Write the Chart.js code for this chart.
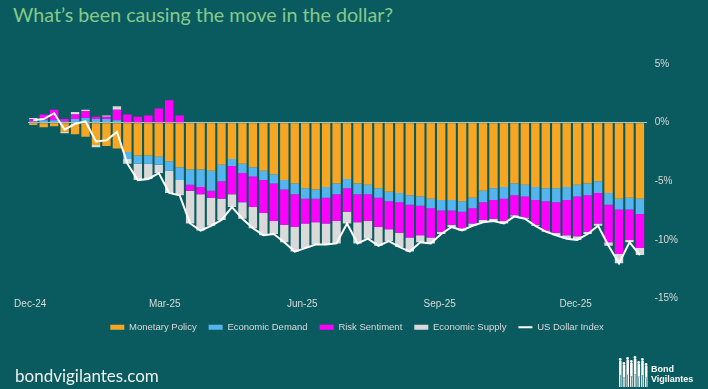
<!DOCTYPE html>
<html lang="en">
<head>
  <meta charset="UTF-8">
  <title>What's been causing the move in the dollar?</title>
  <script src="https://cdn.jsdelivr.net/npm/chart.js"></script>
  <style>
    body { margin: 0; width: 708px; height: 389px; background: #0a5b5f; overflow: hidden; position: relative; }
    .title { position: absolute; left: 13px; top: 3px; font-family: 'Lato', sans-serif; font-size: 19.7px; color: #86c98c; white-space: nowrap; }
    .site { position: absolute; left: 15px; top: 365px; font-family: 'Lato', sans-serif; font-size: 17px; color: #f0f0f0; }
    canvas { position: absolute; left: 0; top: 0; }
  </style>
</head>
<body>
  <div class="title">What’s been causing the move in the dollar?</div>
  <canvas id="chart" width="708" height="389"></canvas>
  <div class="site">bondvigilantes.com</div>

  <script>
    // weekly observations, first one in the week of 3 Dec 2024
    const firstWeek = '2024-12-03';
    const weekCount = 59;
    const tickLabels = ['Dec-24', 'Mar-25', 'Jun-25', 'Sep-25', 'Dec-25'];

    const monetaryPolicy = [
      -0.2, -0.4, -0.3, -0.8, -1.0, -1.2, -1.9, -2.0, -2.2, -2.5,
      -2.8, -2.8, -2.9, -3.3, -3.8, -4.0, -4.0, -4.1, -3.6, -3.1,
      -3.5, -3.8, -4.1, -4.4, -4.9, -5.2, -5.6, -5.7, -5.5, -5.2,
      -4.8, -5.2, -5.3, -5.6, -5.9, -6.0, -6.2, -6.3, -6.5, -6.6,
      -6.6, -6.7, -6.4, -5.8, -5.6, -5.5, -5.2, -5.3, -5.5, -5.6,
      -5.6, -5.5, -5.3, -5.2, -5.0, -6.0, -6.5, -6.4, -6.5
    ];
    const economicDemand = [
      0.1, 0.2, 0.2, 0.1, 0.3, 0.4, 0.3, 0.3, 0.2, -0.6,
      -0.7, -0.7, -0.7, -0.8, -1.1, -1.3, -1.5, -1.7, -1.4, -0.6,
      -0.8, -0.8, -0.8, -0.8, -0.8, -0.9, -0.9, -0.8, -0.9, -0.9,
      -0.8, -0.9, -0.8, -0.8, -0.8, -0.8, -0.8, -0.8, -0.8, -0.9,
      -0.9, -0.9, -0.9, -1.0, -1.0, -1.0, -1.0, -1.0, -1.1, -1.1,
      -1.2, -1.1, -1.0, -1.0, -1.0, -1.0, -0.9, -1.0, -1.3
    ];
    const riskSentiment = [
      0.2, 0.5, 0.9, 0.2, 0.4, 0.6, 0.2, 0.2, 0.9, 0.7,
      0.5, 0.6, 1.2, 1.9, 0.6, -0.5, -0.6, -0.6, -1.5, -2.4,
      -2.5, -2.6, -2.8, -3.2, -3.0, -2.8, -2.1, -2.0, -2.2, -2.3,
      -2.0, -2.4, -2.3, -2.5, -2.4, -2.6, -2.8, -2.5, -2.5, -1.8,
      -1.2, -1.4, -1.3, -1.5, -1.6, -1.9, -1.7, -1.8, -2.1, -2.5,
      -2.6, -3.0, -3.4, -3.1, -2.6, -3.2, -3.8, -2.6, -2.9
    ];
    const economicSupply = [
      0.1, 0.0, 0.0, -0.1, 0.2, 0.1, -0.2, 0.1, 0.3, -0.4,
      -1.4, -1.3, -0.7, -1.9, -1.3, -2.8, -3.1, -2.4, -1.8, -1.1,
      -1.4, -1.8, -1.9, -1.1, -1.5, -2.1, -2.1, -1.9, -1.8, -1.9,
      -1.0, -1.8, -1.5, -1.6, -1.0, -1.2, -1.2, -0.6, -0.5, -0.2,
      -0.2, -0.2, -0.2, -0.2, -0.2, -0.2, -0.1, -0.1, -0.1, -0.1,
      -0.2, -0.3, -0.3, -0.2, -0.2, -0.3, -0.8, -0.2, -0.6
    ];
    const usDollarIndex = [
      0.2, 0.3, 0.8, -0.6, -0.1, 0.1, -1.6, -1.5, -0.8, -3.5,
      -4.9, -4.8, -4.3, -6.0, -6.2, -8.6, -9.2, -8.8, -8.3, -7.2,
      -8.2, -9.0, -9.6, -9.5, -10.2, -11.0, -10.7, -10.4, -10.4, -10.3,
      -8.6, -10.3, -9.9, -10.5, -10.1, -10.6, -11.0, -10.2, -10.3, -9.5,
      -8.9, -9.2, -8.8, -8.5, -8.4, -8.6, -8.0, -8.2, -8.8, -9.3,
      -9.6, -9.9, -10.0, -9.5, -8.8, -10.5, -12.0, -10.2, -11.3
    ];

    const DAY = 86400000;
    const origin = Date.UTC(2024, 11, 1);
    const startDay = (Date.parse(firstWeek) - origin) / DAY;
    const weekDays = [];
    for (let i = 0; i < weekCount; i++) weekDays.push(startDay + 7 * i);

    const months = { Jan: 0, Feb: 1, Mar: 2, Apr: 3, May: 4, Jun: 5, Jul: 6, Aug: 7, Sep: 8, Oct: 9, Nov: 10, Dec: 11 };
    const tickDays = tickLabels.map(t => {
      const [m, y] = t.split('-');
      return (Date.UTC(2000 + Number(y), months[m], 1) - origin) / DAY;
    });

    const pts = arr => arr.map((v, i) => ({ x: weekDays[i], y: v }));

    const txt = '#d9d9d9';
    const tickFont = { family: 'Liberation Sans', size: 10 };

    const logo = {
      id: 'logo',
      afterDraw(chart) {
        const c = chart.ctx;
        c.save();
        c.fillStyle = '#ffffff';
        const hs = [26, 22, 27, 24, 28, 23, 26, 21];
        hs.forEach((h, k) => {
          const x = 619 + k * 3.7;
          const bottom = 387;
          c.beginPath();
          c.arc(x + 1.2, bottom - h - 1.5, 1.4, 0, Math.PI * 2);
          c.fill();
          c.fillRect(x, bottom - h, 2.6, h * 0.55);
          c.fillRect(x, bottom - h * 0.45, 1, h * 0.45);
          c.fillRect(x + 1.6, bottom - h * 0.45, 1, h * 0.45);
        });
        c.font = 'bold 9px "Liberation Sans"';
        c.textBaseline = 'middle';
        c.fillText('Bond', 651, 370);
        c.fillText('Vigilantes', 651, 380);
        c.restore();
      }
    };

    new Chart(document.getElementById('chart'), {
      type: 'bar',
      data: {
        datasets: [
          { label: 'Monetary Policy', data: pts(monetaryPolicy), backgroundColor: '#f6a623', stack: 'f', pointStyle: 'rect' },
          { label: 'Economic Demand', data: pts(economicDemand), backgroundColor: '#55b4ee', stack: 'f', pointStyle: 'rect' },
          { label: 'Risk Sentiment', data: pts(riskSentiment), backgroundColor: '#ff00ff', stack: 'f', pointStyle: 'rect' },
          { label: 'Economic Supply', data: pts(economicSupply), backgroundColor: '#d9d9d9', stack: 'f', pointStyle: 'rect' },
          {
            type: 'line', label: 'US Dollar Index', data: pts(usDollarIndex), stack: 'usd', order: -1,
            borderColor: '#ffffff', backgroundColor: '#ffffff', borderWidth: 2, pointRadius: 0,
            pointStyle: 'line', tension: 0
          }
        ]
      },
      options: {
        responsive: false,
        animation: false,
        datasets: { bar: { barPercentage: 0.8, categoryPercentage: 1, borderWidth: 0 } },
        layout: { padding: { left: 28, right: 22, top: 64, bottom: 47 } },
        plugins: {
          legend: {
            position: 'bottom',
            labels: {
              color: txt, font: { family: 'Liberation Sans', size: 9.5 }, usePointStyle: true, pointStyleWidth: 14,
              boxHeight: 5, padding: 12,
              sort: (a, b) => a.datasetIndex - b.datasetIndex
            }
          },
          tooltip: { enabled: false }
        },
        scales: {
          x: {
            type: 'linear', offset: false, min: -1.5, max: 412.5,
            grid: { display: false, drawTicks: false }, border: { display: false },
            afterBuildTicks: s => { s.ticks = tickDays.map(v => ({ value: v })); },
            ticks: {
              color: txt, font: tickFont, padding: 0, maxRotation: 0, autoSkip: false,
              callback: v => tickLabels[tickDays.indexOf(v)] || ''
            }
          },
          y: {
            position: 'right', stacked: true, min: -15, max: 5,
            border: { display: false },
            grid: {
              drawTicks: false,
              color: c => c.tick && c.tick.value === 0 ? 'rgba(225,225,225,0.8)' : 'transparent'
            },
            ticks: { stepSize: 5, color: txt, font: tickFont, padding: 8, callback: v => v + '%' }
          }
        }
      },
      plugins: [logo]
    });
  </script>
</body>
</html>
